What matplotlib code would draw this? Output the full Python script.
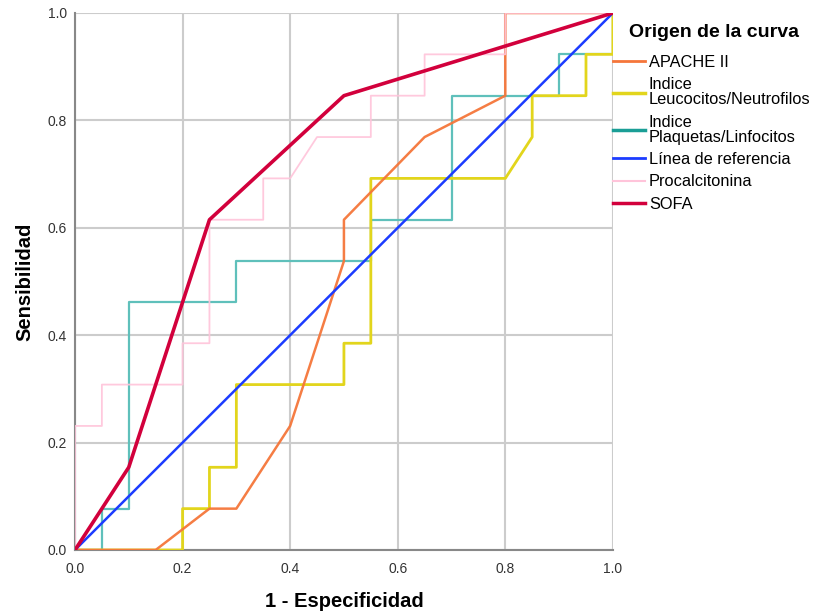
import matplotlib
matplotlib.use("Agg")
import matplotlib.pyplot as plt
from matplotlib.lines import Line2D

plt.rcParams['font.family'] = ['Liberation Sans', 'DejaVu Sans']

# curvas ROC (1 - especificidad, sensibilidad)
apache_x = [0.0, 0.15, 0.25, 0.30, 0.40, 0.50, 0.50, 0.65, 0.80, 0.80, 1.0]
apache_y = [0.0, 0.0, 0.077, 0.077, 0.231, 0.538, 0.615, 0.769, 0.846, 1.0, 1.0]

leuco_x = [0.0, 0.20, 0.20, 0.25, 0.25, 0.30, 0.30, 0.50, 0.50, 0.55, 0.55, 0.80, 0.85, 0.85, 0.95, 0.95, 1.0, 1.0]
leuco_y = [0.0, 0.0, 0.077, 0.077, 0.154, 0.154, 0.308, 0.308, 0.385, 0.385, 0.692, 0.692, 0.769, 0.846, 0.846, 0.923, 0.923, 1.0]

plaq_x = [0.0, 0.05, 0.05, 0.10, 0.10, 0.30, 0.30, 0.55, 0.55, 0.70, 0.70, 0.90, 0.90, 1.0, 1.0]
plaq_y = [0.0, 0.0, 0.077, 0.077, 0.462, 0.462, 0.538, 0.538, 0.615, 0.615, 0.846, 0.846, 0.923, 0.923, 1.0]

ref_x = [0.0, 1.0]
ref_y = [0.0, 1.0]

pct_x = [0.0, 0.0, 0.05, 0.05, 0.20, 0.20, 0.25, 0.25, 0.35, 0.35, 0.40, 0.45, 0.55, 0.55, 0.65, 0.65, 0.80, 0.80, 1.0]
pct_y = [0.0, 0.231, 0.231, 0.308, 0.308, 0.385, 0.385, 0.615, 0.615, 0.692, 0.692, 0.769, 0.769, 0.846, 0.846, 0.923, 0.923, 1.0, 1.0]

sofa_x = [0.0, 0.10, 0.25, 0.50, 1.0]
sofa_y = [0.0, 0.154, 0.615, 0.846, 1.0]

labels = ["APACHE II", "Indice\nLeucocitos/Neutrofilos", "Indice\nPlaquetas/Linfocitos",
          "Línea de referencia", "Procalcitonina", "SOFA"]
ticks = [0.0, 0.2, 0.4, 0.6, 0.8, 1.0]

fig = plt.figure(figsize=(8.15, 6.13), dpi=100)
ax = fig.add_axes([0.092, 0.1028, 0.66, 0.876])

c_apache = '#f5763a'
c_leuco = '#e2d51c'
c_plaq = '#1a9e96'
c_ref = '#1c3cff'
c_pct = '#ffc4da'
c_sofa = '#d2003c'

ax.plot(plaq_x, plaq_y, color='#5fc0bb', lw=1.6, zorder=3)
ax.plot(leuco_x, leuco_y, color=c_leuco, lw=2.0, zorder=4)
ax.plot(apache_x, apache_y, color=c_apache, lw=1.8, zorder=5, alpha=0.95)
ax.plot(ref_x, ref_y, color=c_ref, lw=1.8, zorder=6)
ax.plot(pct_x, pct_y, color=c_pct, lw=1.3, zorder=6, alpha=0.9)
ax.plot(sofa_x, sofa_y, color=c_sofa, lw=2.6, zorder=7)

ax.set_xlim(0, 1)
ax.set_ylim(0, 1)
ax.set_xticks(ticks)
ax.set_yticks(ticks)
ax.set_xticklabels([f"{t:.1f}" for t in ticks])
ax.set_yticklabels([f"{t:.1f}" for t in ticks])
ax.tick_params(length=0, labelsize=10, colors='#333333')
ax.tick_params(axis='x', pad=9)
ax.tick_params(axis='y', pad=6)
ax.grid(True, color='#cccccc', lw=1.5)
ax.set_axisbelow(True)
for s in ['top', 'right']:
    ax.spines[s].set_visible(False)
for s in ['left', 'bottom']:
    ax.spines[s].set_color('#888888')
    ax.spines[s].set_linewidth(1.5)

ax.set_xlabel("1 - Especificidad", fontsize=14.5, fontweight='bold', labelpad=11)
ax.set_ylabel("Sensibilidad", fontsize=14.5, fontweight='bold', labelpad=9)

handles = [Line2D([], [], color=c, lw=w) for c, w in
           [(c_apache, 2), (c_leuco, 2.5), (c_plaq, 2.5), (c_ref, 2), (c_pct, 1.5), (c_sofa, 2.5)]]
leg = ax.legend(handles, labels, loc='upper left',
                bbox_to_anchor=(1.0, 0.922), frameon=False, fontsize=11.8,
                handlelength=1.95, handletextpad=0.25, labelspacing=0.44,
                borderaxespad=0, borderpad=0)
for t in leg.get_texts():
    t.set_linespacing(1.03)
ax.text(1.188, 0.9646, "Origen de la curva", transform=ax.transAxes,
        ha='center', va='center', fontsize=14, fontweight='bold')

fig.savefig("out.png", dpi=100)
